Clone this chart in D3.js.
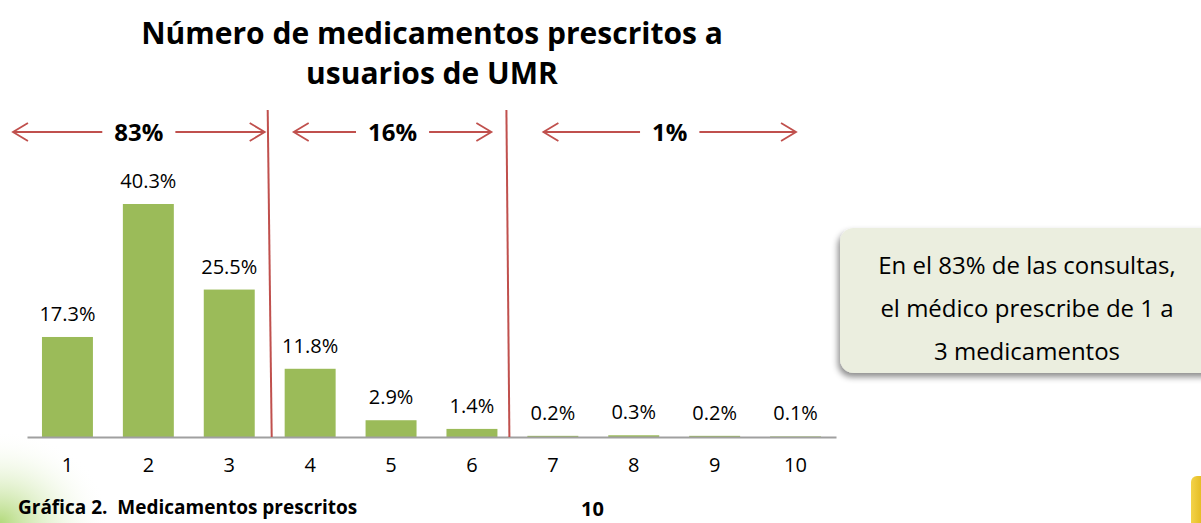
<!DOCTYPE html>
<html>
<head>
<meta charset="utf-8">
<script src="https://cdn.jsdelivr.net/npm/d3@7"></script>
<style>
  body { margin: 0; background: #fff; }
  svg { display: block; font-family: "Open Sans", sans-serif; }
</style>
</head>
<body>
<div id="container"></div>
<script>
// data
const categories = [1, 2, 3, 4, 5, 6, 7, 8, 9, 10];
const values = [17.3, 40.3, 25.5, 11.8, 2.9, 1.4, 0.2, 0.3, 0.2, 0.1];
const groupLabels = ['83%', '16%', '1%'];
const groupRanges = [[1, 3], [4, 6], [7, 10]];
const titleLines = ['Número de medicamentos prescritos a', 'usuarios de UMR'];
const noteLines = ['En el 83% de las consultas,', 'el médico prescribe de 1 a', '3 medicamentos'];

const width = 1201, height = 523;
const red = '#c0504d';

const svg = d3.select('#container').append('svg')
  .attr('width', width)
  .attr('height', height);

const defs = svg.append('defs');
const glow = defs.append('radialGradient').attr('id', 'glow')
  .attr('cx', 0).attr('cy', 1).attr('r', 1);
glow.append('stop').attr('offset', '0%').attr('stop-color', '#9fd05a').attr('stop-opacity', 0.8);
glow.append('stop').attr('offset', '100%').attr('stop-color', '#ffffff').attr('stop-opacity', 0);

const gold = defs.append('linearGradient').attr('id', 'gold')
  .attr('x1', 0).attr('x2', 1).attr('y1', 0).attr('y2', 0);
gold.append('stop').attr('offset', '0%').attr('stop-color', '#f3d34a');
gold.append('stop').attr('offset', '100%').attr('stop-color', '#d9a800');

const shadow = defs.append('filter').attr('id', 'shadow')
  .attr('x', '-20%').attr('y', '-20%').attr('width', '140%').attr('height', '150%');
shadow.append('feDropShadow').attr('dx', -2).attr('dy', 4).attr('stdDeviation', 3)
  .attr('flood-color', '#000').attr('flood-opacity', 0.45);

// background decoration
svg.append('rect').attr('x', 0).attr('y', 430).attr('width', 110).attr('height', 93)
  .attr('fill', 'url(#glow)');
svg.append('rect').attr('x', 1191).attr('y', 476).attr('width', 20).attr('height', 60)
  .attr('rx', 6).attr('fill', 'url(#gold)');

// scales
const x = d3.scaleBand()
  .domain(categories)
  .range([27, 836])
  .paddingInner(0.37)
  .paddingOuter(0.185);

const y = d3.scaleLinear()
  .domain([0, 40.3])
  .range([437, 204]);

// title
svg.append('text')
  .attr('x', 432).attr('y', 44)
  .attr('text-anchor', 'middle')
  .style('font-size', '30px').style('font-weight', 'bold')
  .selectAll('tspan')
  .data(titleLines)
  .join('tspan')
  .attr('x', 432)
  .attr('dy', (d, i) => i === 0 ? 0 : 40)
  .text(d => d);

// bars
svg.append('g')
  .selectAll('rect')
  .data(values)
  .join('rect')
  .attr('x', (d, i) => x(categories[i]))
  .attr('y', d => y(d))
  .attr('width', x.bandwidth())
  .attr('height', d => y(0) - y(d))
  .attr('fill', '#9bbb59');

// value labels
svg.append('g')
  .selectAll('text')
  .data(values)
  .join('text')
  .attr('x', (d, i) => x(categories[i]) + x.bandwidth() / 2)
  .attr('y', d => y(d) - 16)
  .attr('text-anchor', 'middle')
  .style('font-size', '20px')
  .style('fill', '#000')
  .text(d => d.toFixed(1) + '%');

// x axis
const xAxis = svg.append('g')
  .attr('transform', `translate(0,${y(0)})`)
  .call(d3.axisBottom(x).tickSize(0).tickPadding(21));
xAxis.select('.domain').attr('stroke', '#a0a0a0').attr('stroke-width', 2);
xAxis.selectAll('text').style('font-size', '20px').style('fill', '#000')
  .style('font-family', '"Open Sans", sans-serif');

// red separators between groups
const step = x.step();
const separators = groupRanges.slice(1).map(r => x(r[0]) - (step - x.bandwidth()) / 2);
svg.append('g')
  .selectAll('line')
  .data(separators)
  .join('line')
  .attr('x1', (d, i) => d - 2 - i * 4)
  .attr('x2', (d, i) => d + 2 - i * 5)
  .attr('y1', 110)
  .attr('y2', y(0))
  .attr('stroke', red)
  .attr('stroke-width', 2);

// group arrows
const arrowY = 132;
const lastBand = x(categories[categories.length - 1]) + x.bandwidth();
const arrowSpans = [
  { left: x(groupRanges[0][0]) - 29, right: separators[0] - 5 },
  { left: separators[0] + 24, right: separators[1] - 21 },
  { left: separators[1] + 31, right: lastBand - 25 }
];

const arrows = svg.append('g')
  .selectAll('g')
  .data(groupLabels)
  .join('g');

arrows.each(function (label, i) {
  const g = d3.select(this);
  const { left, right } = arrowSpans[i];
  const cx = (left + right) / 2;
  const t = g.append('text')
    .attr('x', cx).attr('y', arrowY + 9)
    .attr('text-anchor', 'middle')
    .style('font-size', '24px').style('font-weight', 'bold')
    .text(label);
  const tw = t.node().getComputedTextLength();
  const gap = 12;
  const path = d3.path();
  path.moveTo(left, arrowY); path.lineTo(cx - tw / 2 - gap, arrowY);
  path.moveTo(cx + tw / 2 + gap, arrowY); path.lineTo(right, arrowY);
  // heads
  path.moveTo(left + 15, arrowY - 9); path.lineTo(left, arrowY); path.lineTo(left + 15, arrowY + 9);
  path.moveTo(right - 15, arrowY - 9); path.lineTo(right, arrowY); path.lineTo(right - 15, arrowY + 9);
  g.append('path').attr('d', path.toString())
    .attr('fill', 'none').attr('stroke', red).attr('stroke-width', 1.8);
});

// callout box
svg.append('rect')
  .attr('x', 840).attr('y', 228)
  .attr('width', 380).attr('height', 145)
  .attr('rx', 14)
  .attr('fill', '#ebeedf')
  .attr('filter', 'url(#shadow)');

svg.append('g')
  .selectAll('text')
  .data(noteLines)
  .join('text')
  .attr('x', 1027)
  .attr('y', (d, i) => 274 + i * 43)
  .attr('text-anchor', 'middle')
  .style('font-size', '24px')
  .text(d => d);

// caption
svg.append('text')
  .attr('x', 18).attr('y', 514)
  .attr('xml:space', 'preserve')
  .style('font-size', '19px').style('font-weight', 'bold')
  .text('Gráfica 2.  Medicamentos prescritos');

svg.append('text')
  .attr('x', 581).attr('y', 516)
  .style('font-size', '20px').style('font-weight', 'bold')
  .text('10');
</script>
</body>
</html>
